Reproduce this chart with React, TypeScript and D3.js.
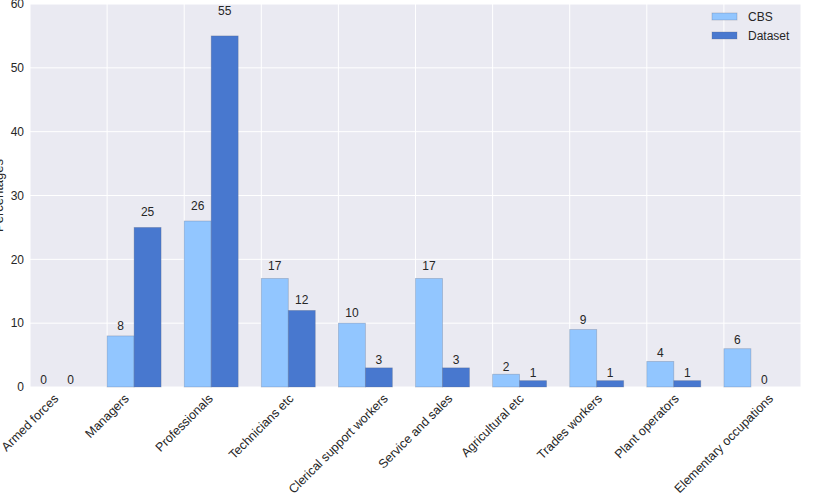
import * as d3 from 'd3';
import { useEffect, useRef } from 'react';

const categories = [
  'Armed forces',
  'Managers',
  'Professionals',
  'Technicians etc',
  'Clerical support workers',
  'Service and sales',
  'Agricultural etc',
  'Trades workers',
  'Plant operators',
  'Elementary occupations',
];
const cbsValues = [0, 8, 26, 17, 10, 17, 2, 9, 4, 6];
const datasetValues = [0, 25, 55, 12, 3, 3, 1, 1, 1, 0];
const seriesNames = ['CBS', 'Dataset'];
const yTicks = [0, 10, 20, 30, 40, 50, 60];

const W = 814;
const H = 498;

const App = () => {
  const ref = useRef<SVGSVGElement | null>(null);

  useEffect(() => {
    drawChart();
  }, []);

  const drawChart = () => {
    const svg = d3.select(ref.current);
    svg.selectAll('*').remove();

    const font = 'Arial, "Liberation Sans", sans-serif';
    const textColor = '#262626';
    const colors = ['#92C6FF', '#4878CF'];
    const barW = 0.35;

    // plot area
    const margin = { top: 4, right: 13, bottom: 111, left: 30 };
    const x = d3.scaleLinear()
      .domain([0, categories.length])
      .range([margin.left, W - margin.right]);
    const y = d3.scaleLinear()
      .domain([0, 60])
      .range([H - margin.bottom, margin.top]);

    svg.append('rect')
      .attr('x', x(0))
      .attr('y', y(60))
      .attr('width', x(categories.length) - x(0))
      .attr('height', y(0) - y(60))
      .attr('fill', '#EAEAF2');

    // grid
    const grid = svg.append('g').attr('stroke', '#fff').attr('stroke-width', 1);
    grid.selectAll('line.h')
      .data(yTicks)
      .enter().append('line')
      .attr('x1', x(0)).attr('x2', x(categories.length))
      .attr('y1', d => y(d)).attr('y2', d => y(d));
    grid.selectAll('line.v')
      .data(d3.range(categories.length + 1))
      .enter().append('line')
      .attr('y1', y(0)).attr('y2', y(60))
      .attr('x1', d => x(d)).attr('x2', d => x(d));

    // y tick labels
    svg.append('g')
      .selectAll('text')
      .data(yTicks)
      .enter().append('text')
      .attr('x', x(0) - 6)
      .attr('y', d => y(d))
      .attr('dy', '0.35em')
      .attr('text-anchor', 'end')
      .attr('font-family', font)
      .attr('font-size', 12)
      .attr('fill', textColor)
      .text(d => d);

    // y axis label
    svg.append('text')
      .attr('transform', `translate(3,${(y(0) + y(60)) / 2}) rotate(-90)`)
      .attr('text-anchor', 'middle')
      .attr('font-family', font)
      .attr('font-size', 13)
      .attr('fill', textColor)
      .text('Percentages');

    // bars + value labels
    const series = [cbsValues, datasetValues];
    series.forEach((vals, s) => {
      const g = svg.append('g');
      g.selectAll('rect')
        .data(vals)
        .enter().append('rect')
        .attr('x', (d, i) => x(i + s * barW))
        .attr('y', d => y(d))
        .attr('width', x(barW) - x(0))
        .attr('height', d => y(0) - y(d))
        .attr('fill', colors[s])
        .attr('stroke', 'rgba(90,100,130,0.35)')
        .attr('stroke-width', 0.8);

      g.selectAll('text')
        .data(vals)
        .enter().append('text')
        .attr('x', (d, i) => x(i + s * barW + barW / 2))
        .attr('y', d => y(1.05 * d) - 3)
        .attr('text-anchor', 'middle')
        .attr('font-family', font)
        .attr('font-size', 12)
        .attr('fill', textColor)
        .text(d => d);
    });

    // rotated category labels, bbox centred under the tick
    const labels = svg.append('g');
    const top = y(0) + 6;
    categories.forEach((c, i) => {
      const t = labels.append('text')
        .attr('text-anchor', 'middle')
        .attr('dominant-baseline', 'central')
        .attr('font-family', font)
        .attr('font-size', 12.5)
        .attr('fill', textColor)
        .text(c);
      const len = (t.node() as SVGTextElement).getComputedTextLength();
      const half = (len + 10) * Math.SQRT1_2 / 2;
      t.attr('transform', `translate(${x(i)},${top + half}) rotate(-45)`);
    });

    // legend
    const legend = svg.append('g');
    seriesNames.forEach((name, i) => {
      const cy = 16.5 + i * 19;
      legend.append('rect')
        .attr('x', 712).attr('y', cy - 3.5)
        .attr('width', 25).attr('height', 7)
        .attr('fill', colors[i])
        .attr('stroke', 'rgba(90,100,130,0.35)')
        .attr('stroke-width', 0.8);
      legend.append('text')
        .attr('x', 748).attr('y', cy)
        .attr('dy', '0.35em')
        .attr('font-family', font)
        .attr('font-size', 12)
        .attr('fill', textColor)
        .text(name);
    });
  };

  return (
    <div style={{ position: 'absolute', left: 0, top: 0 }}>
      <svg ref={ref} width={W} height={H} style={{ display: 'block', background: '#fff' }} />
    </div>
  );
};

export default App;
